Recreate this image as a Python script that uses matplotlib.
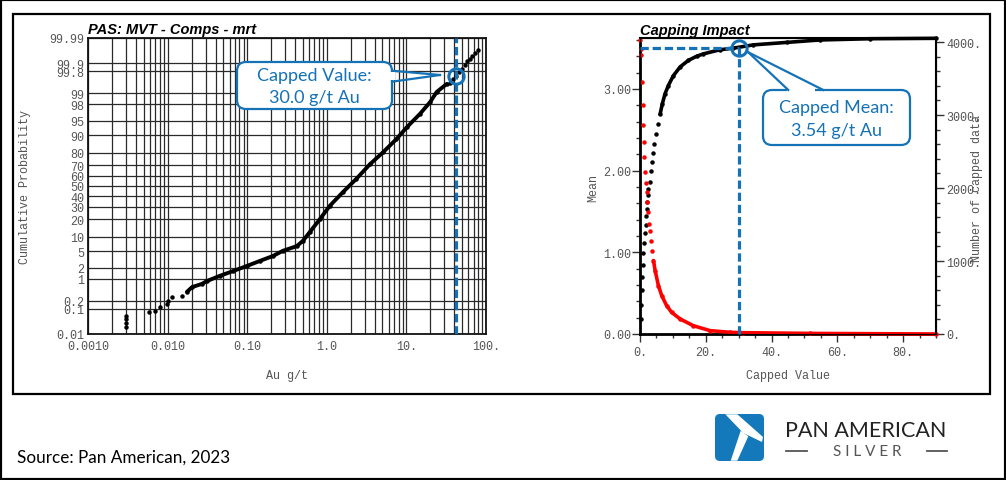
import matplotlib
matplotlib.use('Agg')
import numpy as np
import matplotlib.pyplot as plt
from statistics import NormalDist
from matplotlib.patches import FancyBboxPatch, Rectangle, Polygon
from matplotlib.lines import Line2D
from matplotlib.transforms import Affine2D
from matplotlib.ticker import FixedLocator, NullLocator, MultipleLocator, LogLocator, NullFormatter, FuncFormatter

# ---- data ----
# left: cumulative probability plot of Au composites
cdf_grade = [0.003, 0.003, 0.003, 0.003, 0.0058, 0.0069, 0.008, 0.0098, 0.0101, 0.0113,
             0.015, 0.0175, 0.0203, 0.027, 0.031, 0.045, 0.066, 0.099, 0.145, 0.21,
             0.28, 0.42, 0.50, 0.61, 0.82, 1.09, 1.6, 2.35, 3.5, 5.1,
             7.5, 10.2, 14.8, 19.9, 24.0, 32.0, 34.8, 38.3, 42.3, 46.4,
             50.2, 53.7, 58.1, 62.1, 66.4, 71.8, 78.9]
cdf_prob = [0.020, 0.030, 0.042, 0.055, 0.076, 0.084, 0.118, 0.154, 0.193, 0.264,
            0.289, 0.391, 0.554, 0.695, 0.842, 1.19, 1.62, 2.22, 3.0, 3.92,
            5.16, 6.55, 8.38, 12.3, 20.3, 30.9, 44.0, 57.1, 70.9, 80.2,
            88.1, 93.1, 96.5, 98.26, 99.09, 99.48, 99.53, 99.64, 99.72, 99.795,
            99.84, 99.882, 99.913, 99.931, 99.946, 99.958, 99.969]
prob_ticks = [0.01, 0.1, 0.2, 1, 2, 5, 10, 20, 30, 40, 50, 60, 70, 80, 90, 95, 98, 99, 99.8, 99.9, 99.99]
prob_labels = ['0.01', '0.1', '0.2', '1', '2', '5', '10', '20', '30', '40', '50', '60', '70',
               '80', '90', '95', '98', '99', '99.8', '99.9', '99.99']
grade_ticks = [0.001, 0.01, 0.1, 1, 10, 100]
grade_labels = ['0.0010', '0.010', '0.10', '1.0', '10.', '100.']
cap_line_left = 42.0
cap_prob = 99.72

# right: capping impact
cap_mean_x = [0.2, 0.3, 0.5, 0.7, 0.8, 1.0, 1.2, 1.5, 1.8, 1.8, 2.0, 2.2, 2.5, 2.5, 3.0,
              3.3, 3.6, 4.0, 4.3, 4.9, 5.4, 6.1, 6.8, 7.6, 8.6, 10.1, 12.2, 14.7, 17.2,
              19.3, 24.3, 28.4, 34.5, 44.6, 54.7, 70.0, 90.0]
mean_vals = [0.18, 0.36, 0.54, 0.70, 0.85, 0.99, 1.12, 1.24, 1.34, 1.44, 1.53, 1.61, 1.70, 1.77, 1.86,
             2.00, 2.10, 2.22, 2.33, 2.45, 2.57, 2.69, 2.82, 2.94, 3.04, 3.16, 3.27, 3.35, 3.40,
             3.43, 3.48, 3.50, 3.54, 3.57, 3.60, 3.615, 3.62]
cap_n_x = [0.0, 0.3, 0.3, 0.6, 0.8, 1.0, 1.1, 1.3, 1.4, 1.7, 2.0, 2.2, 2.5, 2.7, 3.0,
           3.3, 3.6, 4.1, 4.6, 5.6, 6.6, 8.1, 9.6, 12.2, 16.2, 21.3, 27.4, 31.4, 51.7, 90.0]
n_capped = [4023, 3900, 3818, 3452, 3132, 2867, 2630, 2432, 2226, 2067, 1944, 1806, 1670, 1509, 1417,
            1280, 1143, 1006, 869, 663, 526, 389, 297, 206, 114, 46, 23, 18, 8, 0]
cap_value = 30.0
capped_mean = 3.50

BLUE = '#1572B6'
GREY = '#555555'
MONO = 'Liberation Mono'

W, H = 1006, 481
fig = plt.figure(figsize=(W / 100, H / 100), dpi=100)
# pixel coordinates (y down) for decoration
T = Affine2D().scale(1 / W, -1 / H).translate(0, 1) + fig.transFigure

nd = NormalDist()


def fwd(p):
    p = np.clip(np.asarray(p, dtype=float), 1e-9, 100 - 1e-9)
    return np.vectorize(lambda v: nd.inv_cdf(v / 100.0), otypes=[float])(p)


def inv(z):
    z = np.asarray(z, dtype=float)
    return np.vectorize(lambda v: 100.0 * nd.cdf(v), otypes=[float])(z)


# ---- left plot ----
ax1 = fig.add_axes([88 / W, 1 - 335 / H, 398 / W, 296 / H])
ax1.set_xscale('log')
ax1.set_yscale('function', functions=(fwd, inv))
ax1.set_xlim(0.001, 100)
ax1.set_ylim(0.01, 99.99)

ax1.xaxis.set_major_locator(FixedLocator(grade_ticks))
ax1.xaxis.set_major_formatter(FuncFormatter(
    lambda v, pos: grade_labels[int(np.argmin([abs(np.log10(v) - np.log10(t)) for t in grade_ticks]))]))
ax1.xaxis.set_minor_locator(LogLocator(base=10, subs=np.arange(2, 10), numticks=30))
ax1.xaxis.set_minor_formatter(NullFormatter())
ax1.yaxis.set_major_locator(FixedLocator(prob_ticks))
ax1.yaxis.set_major_formatter(FuncFormatter(
    lambda v, pos: prob_labels[int(np.argmin([abs(v - t) for t in prob_ticks]))]))
ax1.yaxis.set_minor_locator(NullLocator())
ax1.grid(which='both', axis='x', color='#2a2a2a', lw=0.9)
ax1.grid(which='major', axis='y', color='#2a2a2a', lw=0.9)
ax1.tick_params(which='both', length=0, labelsize=8.5, labelcolor=GREY, labelfontfamily=MONO)
ax1.tick_params(axis='x', pad=4.5)
ax1.tick_params(axis='y', pad=2.5)
for s in ax1.spines.values():
    s.set_linewidth(1.3)
    s.set_color('#111111')

g = np.array(cdf_grade)
pr = np.array(cdf_prob)
dense = (g >= 0.017) & (g <= 33)
ax1.plot(g[dense], pr[dense], color='black', lw=2.8, solid_capstyle='round', zorder=3)
ax1.plot(g, pr, 'o', ms=2.2, color='black', zorder=3)
ax1.axvline(cap_line_left, color=BLUE, lw=2.3, dashes=(2.6, 1.2), zorder=4)

fig.text(88 / W, 1 - 30 / H, 'PAS: MVT - Comps - mrt', fontsize=10.5, fontweight='bold',
         fontstyle='italic', family='Liberation Sans', va='center', ha='left')
fig.text(287 / W, 1 - 376 / H, 'Au g/t', family=MONO, fontsize=8.5, color=GREY, ha='center', va='center')
fig.text(25 / W, 1 - 187 / H, 'Cumulative Probability', family=MONO, fontsize=8.5, color=GREY,
         rotation=90, ha='center', va='center')

# ---- right plot ----
ax2 = fig.add_axes([640 / W, 1 - 335 / H, 296 / W, 296 / H])
ax3 = ax2.twinx()
ax2.set_xlim(0, 90)
ax2.set_ylim(0, 3.624)
ax3.set_ylim(0, 4056)

ax2.xaxis.set_major_locator(MultipleLocator(20))
ax2.xaxis.set_minor_locator(MultipleLocator(5))
ax2.xaxis.set_major_formatter(FuncFormatter(lambda v, pos: '%d.' % round(v)))
ax2.yaxis.set_major_locator(MultipleLocator(1))
ax2.yaxis.set_minor_locator(MultipleLocator(0.2))
ax2.yaxis.set_major_formatter(FuncFormatter(lambda v, pos: '%.2f' % v))
ax3.yaxis.set_major_locator(MultipleLocator(1000))
ax3.yaxis.set_minor_locator(MultipleLocator(200))
ax3.yaxis.set_major_formatter(FuncFormatter(lambda v, pos: '%d.' % round(v)))

for a in (ax2, ax3):
    a.tick_params(which='both', direction='out', color='#333333', width=1,
                  labelsize=8.5, labelcolor=GREY, labelfontfamily=MONO)
    a.tick_params(which='major', length=5.5)
    a.tick_params(which='minor', length=3)
ax2.tick_params(axis='x', pad=3)
ax2.tick_params(axis='y', pad=1)
ax3.tick_params(axis='y', pad=2)
ax2.spines['left'].set_linewidth(2)
ax2.spines['bottom'].set_linewidth(2)
ax2.spines['top'].set_linewidth(1.5)
ax3.spines['right'].set_linewidth(1.5)
for s in list(ax2.spines.values()) + list(ax3.spines.values()):
    s.set_color('black')

mx = np.array(cap_mean_x)
mv = np.array(mean_vals)
ax2.plot(mx[mx >= 6], mv[mx >= 6], color='black', lw=2.6, solid_capstyle='round', clip_on=False)
ax2.plot(mx, mv, 'o', ms=2.2, color='black', clip_on=False)

nx = np.array(cap_n_x)
nv = np.array(n_capped)
ax3.plot(nx[nx >= 4], nv[nx >= 4], color='#ff0000', lw=2.6, solid_capstyle='round', clip_on=False)
ax3.plot(nx, nv, 'o', ms=2.2, color='#ff0000', clip_on=False)

ax3.plot([0, cap_value], [capped_mean, capped_mean], color=BLUE, lw=2.3, dashes=(2.6, 1.2),
         transform=ax2.transData, clip_on=False, zorder=5)
ax3.plot([cap_value, cap_value], [0, capped_mean], color=BLUE, lw=2.3, dashes=(2.6, 1.2),
         transform=ax2.transData, clip_on=False, zorder=5)

fig.text(640 / W, 1 - 31 / H, 'Capping Impact', fontsize=10.5, fontweight='bold',
         fontstyle='italic', family='Liberation Sans', va='center', ha='left')
fig.text(788 / W, 1 - 376 / H, 'Capped Value', family=MONO, fontsize=8.5, color=GREY, ha='center', va='center')
fig.text(593 / W, 1 - 188 / H, 'Mean', family=MONO, fontsize=8.5, color=GREY,
         rotation=90, ha='center', va='center')
fig.text(977 / W, 1 - 188 / H, 'Number of capped data', family=MONO, fontsize=8.5, color=GREY,
         rotation=90, ha='center', va='center')


# ---- callouts ----
def callout(box, base1, base2, tip, cover, lines, text_y, size=13):
    x0, y0, w, h = box
    fig.add_artist(FancyBboxPatch((x0, y0), w, h, boxstyle='round,pad=0,rounding_size=9',
                                  transform=T, fc='white', ec=BLUE, lw=1.6, zorder=20))
    fig.add_artist(Polygon(cover, closed=True, transform=T, fc='white', ec='none', zorder=21))
    for b in (base1, base2):
        fig.add_artist(Line2D([b[0], tip[0]], [b[1], tip[1]], transform=T, color=BLUE, lw=1.6, zorder=22))
    for t, ty in zip(lines, text_y):
        fig.text((x0 + w / 2) / W, 1 - ty / H, t, color=BLUE, fontsize=size, family='Lato',
                 ha='center', va='center', zorder=23)


callout((237, 63, 155, 47), (392, 71.7), (392, 82.7), (440, 76),
        [(386, 73.3), (395, 73.3), (395, 81.2), (386, 81.2)],
        ['Capped Value:', '30.0 g/t Au'], [76, 98])
callout((763, 91, 147, 55), (788.3, 91), (823.3, 91), (748.3, 53.3),
        [(787.5, 88.5), (815.5, 88.5), (815.5, 96), (787.5, 96)],
        ['Capped Mean:', '3.54 g/t Au'], [108, 131])

ax1.plot([cap_line_left], [cap_prob], 'o', ms=11, mfc='none', mec=BLUE, mew=2.2, zorder=30, clip_on=False)
ax3.plot([cap_value], [capped_mean], 'o', ms=11, mfc='none', mec=BLUE, mew=2.2, zorder=30,
         transform=ax2.transData, clip_on=False)

# ---- frames ----
fig.add_artist(Rectangle((0, 0), 1, 1, transform=fig.transFigure, fill=False, ec='black', lw=3, zorder=50))
fig.add_artist(Rectangle((13, 15), 977, 380, transform=T, fill=False, ec='black', lw=1.6, zorder=50))

# ---- source + logo ----
fig.text(17 / W, 1 - 463 / H, 'Source: Pan American, 2023', fontsize=12.3, family='Lato',
         ha='left', va='baseline', color='black')
fig.add_artist(FancyBboxPatch((715, 415), 49, 47, boxstyle='round,pad=0,rounding_size=5',
                              transform=T, fc='#1379BA', ec='none', zorder=10))
fig.add_artist(Polygon([(725.3, 415.3), (737.3, 415.3), (763, 438), (762, 443), (743.3, 434)],
                       closed=True, transform=T, fc='white', ec='none', zorder=11))
fig.add_artist(Polygon([(740.7, 431.7), (748.3, 437.3), (737.3, 461.7), (730.7, 461.7)],
                       closed=True, transform=T, fc='white', ec='none', zorder=11))
fig.text(785 / W, 1 - 431 / H, 'PAN AMERICAN', fontsize=15.5, family='Lato', color='#222222',
         ha='left', va='center')
fig.text(867 / W, 1 - 452 / H, 'S I L V E R', fontsize=11, family='Lato', color=GREY,
         ha='center', va='center')
for xa, xb in ((786, 806.7), (926.7, 946.7)):
    fig.add_artist(Line2D([xa, xb], [452, 452], transform=T, color=GREY, lw=1.3))

fig.savefig('out.png', dpi=100)
